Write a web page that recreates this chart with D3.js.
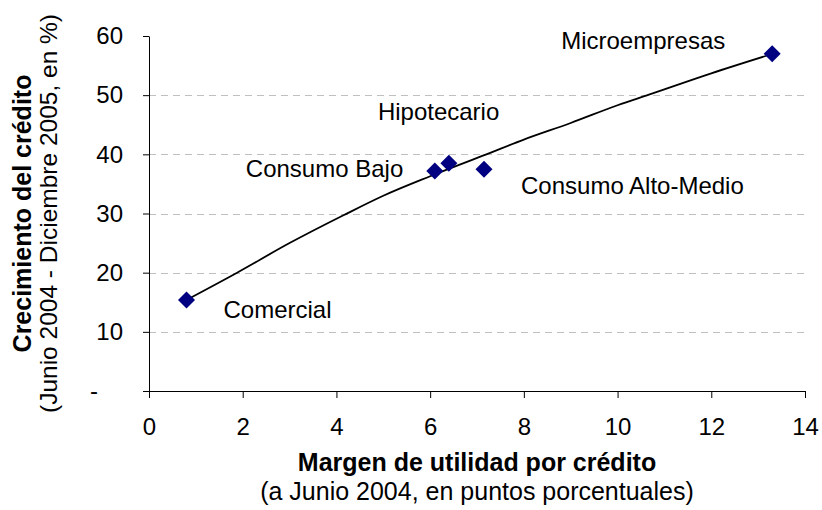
<!DOCTYPE html>
<html>
<head>
<meta charset="utf-8">
<script src="https://cdn.jsdelivr.net/npm/d3@7"></script>
<style>
  html, body { margin: 0; padding: 0; background: #ffffff; }
  svg { display: block; }
  text { font-family: "Liberation Sans", Arial, sans-serif; fill: #000; }
</style>
</head>
<body>
<svg id="chart" width="822" height="510"></svg>
<script>
// ---- data ----
const categories = ["Comercial", "Consumo Bajo", "Hipotecario", "Consumo Alto-Medio", "Microempresas"];
const margen = [0.8, 6.1, 6.4, 7.15, 13.3];          // x: margen de utilidad (pp)
const crecimiento = [15.4, 37.2, 38.5, 37.5, 57.0];   // y: crecimiento del crédito (%)

// trend line
const trendX = [0.8, 1.88, 3.0, 4.15, 5.0, 6.0, 7.2, 8.0, 9.0, 10.0, 10.67, 12.0, 13.31];
const trendY = [15.4, 20.0, 25.0, 29.7, 33.0, 36.3, 40.0, 42.5, 45.3, 48.3, 50.1, 53.7, 57.0];

const xTicks = [0, 2, 4, 6, 8, 10, 12, 14];
const yTicks = [0, 10, 20, 30, 40, 50, 60];
const yTickLabels = ["-", "10", "20", "30", "40", "50", "60"];
const gridTicks = [10, 20, 30, 40, 50];

const xTitle = "Margen de utilidad por crédito";
const xSubtitle = "(a Junio 2004, en puntos porcentuales)";
const yTitle = "Crecimiento del crédito";
const ySubtitle = "(Junio 2004 - Diciembre 2005, en %)";

// ---- layout (pixel offsets of labels relative to their marker) ----
const labelOffsets = {
  "Comercial": [37, 18],
  "Consumo Bajo": [-189, 6],
  "Hipotecario": [-71, -43],
  "Consumo Alto-Medio": [37, 25],
  "Microempresas": [-211, -5]
};

const svg = d3.select("#chart");
const pL = 149, pR = 805, pT = 36, pB = 391;

const x = d3.scaleLinear().domain([0, 14]).range([pL, pR]);
const y = d3.scaleLinear().domain([0, 60]).range([pB, pT]);

// grid lines
svg.append("g").selectAll("line").data(gridTicks).join("line")
  .attr("x1", pL).attr("x2", pR)
  .attr("y1", d => Math.round(y(d)) + 0.5).attr("y2", d => Math.round(y(d)) + 0.5)
  .attr("stroke", "#c0c0c0").attr("stroke-width", 1)
  .attr("stroke-dasharray", "7,5");

// y axis
const yAxis = svg.append("g")
  .attr("transform", `translate(${pL},0)`)
  .call(d3.axisLeft(y).tickValues(yTicks)
    .tickFormat((d, i) => yTickLabels[i])
    .tickSize(6).tickSizeOuter(0).tickPadding(20));
yAxis.selectAll("text").attr("font-size", 24).attr("font-family", "Liberation Sans, Arial, sans-serif")
  .attr("fill", "#000")
  .attr("x", d => d === 0 ? -51 : -26);
yAxis.select(".domain").attr("stroke", "#000");
yAxis.selectAll(".tick line").attr("stroke", "#000");

// x axis
const xAxis = svg.append("g")
  .attr("transform", `translate(0,${pB})`)
  .call(d3.axisBottom(x).tickValues(xTicks)
    .tickSize(7).tickSizeOuter(0).tickPadding(20));
xAxis.selectAll("text").attr("font-size", 24).attr("font-family", "Liberation Sans, Arial, sans-serif")
  .attr("fill", "#000");
xAxis.select(".domain").attr("stroke", "#000");
xAxis.selectAll(".tick line").attr("stroke", "#000");

// trend line
const trend = trendX.map((d, i) => [d, trendY[i]]);
svg.append("path")
  .datum(trend)
  .attr("fill", "none")
  .attr("stroke", "#000")
  .attr("stroke-width", 1.8)
  .attr("d", d3.line().x(d => x(d[0])).y(d => y(d[1])).curve(d3.curveMonotoneX));

// markers
const pts = categories.map((c, i) => ({ c, x: margen[i], y: crecimiento[i] }));
svg.append("g").selectAll("path").data(pts).join("path")
  .attr("transform", d => `translate(${x(d.x)},${y(d.y)})`)
  .attr("d", "M0,-8.5L8.5,0L0,8.5L-8.5,0Z")
  .attr("fill", "#000080");

// point labels
svg.append("g").selectAll("text").data(pts).join("text")
  .attr("x", d => x(d.x) + labelOffsets[d.c][0])
  .attr("y", d => y(d.y) + labelOffsets[d.c][1])
  .attr("font-size", 24)
  .text(d => d.c);

// axis titles
const cx = (pL + pR) / 2;
svg.append("text").attr("x", cx).attr("y", 471).attr("text-anchor", "middle")
  .attr("font-size", 25).attr("font-weight", "bold").text(xTitle);
svg.append("text").attr("x", cx).attr("y", 500).attr("text-anchor", "middle")
  .attr("font-size", 25).text(xSubtitle);

const cy = (pT + pB) / 2;
svg.append("text").attr("transform", `translate(31,${cy}) rotate(-90)`)
  .attr("text-anchor", "middle").attr("font-size", 25).attr("font-weight", "bold").text(yTitle);
svg.append("text").attr("transform", `translate(57,${cy}) rotate(-90)`)
  .attr("text-anchor", "middle").attr("font-size", 24.5).text(ySubtitle);
</script>
</body>
</html>
